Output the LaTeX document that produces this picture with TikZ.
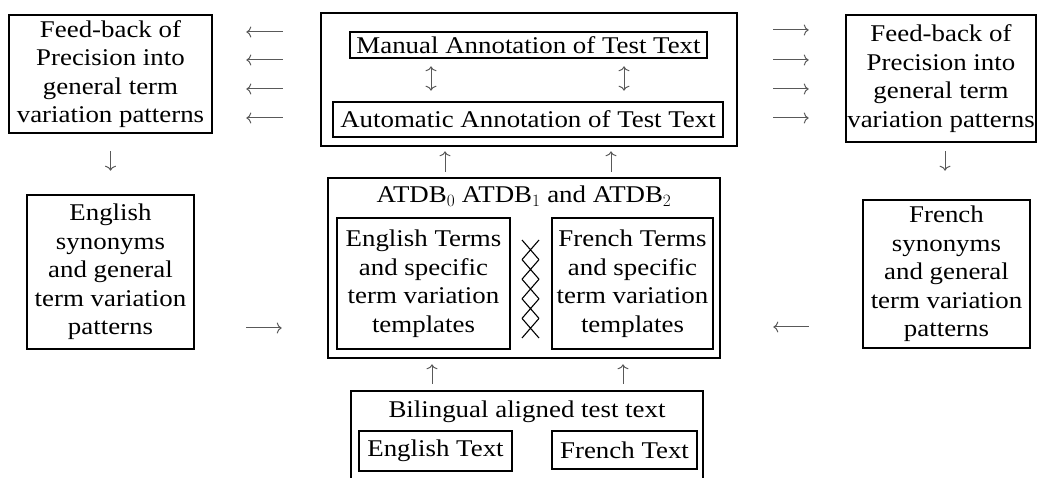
\documentclass[tikz,border=0pt]{standalone}
\usepackage{fontspec}
\setmainfont{Liberation Serif}[FakeStretch=1.12]
\usetikzlibrary{arrows.meta}

\tikzset{
  box/.style={draw, line width=2.6pt, inner sep=0pt, align=center},
  conn/.style={-{To[length=5pt,width=11pt]}, line width=1pt, black!65},
  biconn/.style={{To[length=5pt,width=11pt]}-{To[length=5pt,width=11pt]}, line width=1pt, black!65},
}

\begin{document}
\begin{tikzpicture}[x=1pt, y=1pt, font=\fontsize{24}{28.5}\selectfont]
  \useasboundingbox (0,0) rectangle (1039,477);

  % feed-back boxes
  \node[box, minimum width=203, minimum height=118] (fbL) at (110.5,403)
    {Feed-back of\\Precision into\\general term\\variation patterns};
  \node[box, minimum width=190, minimum height=127] (fbR) at (941,398.5)
    {Feed-back of\\Precision into\\general term\\variation patterns};

  % annotation
  \node[box, minimum width=416, minimum height=133] (annot) at (529,397.5) {};
  \node[box, minimum width=357, minimum height=26] (manual) at (528.5,432)
    {Manual Annotation of Test Text};
  \node[box, minimum width=390, minimum height=35] (auto) at (528,357.5)
    {Automatic Annotation of Test Text};

  % synonyms
  \node[box, minimum width=167, minimum height=154] (synL) at (110.5,205)
    {English\\synonyms\\and general\\term variation\\patterns};
  \node[box, minimum width=167, minimum height=148] (synR) at (946.5,203)
    {French\\synonyms\\and general\\term variation\\patterns};

  % term databases
  \node[box, minimum width=392, minimum height=180] (atdb) at (524,209) {};
  \node[anchor=base] (atdbTitle) at (524,274)
    {ATDB$_0$ ATDB$_1$ and ATDB$_2$};
  \node[box, minimum width=173, minimum height=131] (engT) at (423.5,193.5)
    {English Terms\\and specific\\term variation\\templates};
  \node[box, minimum width=161, minimum height=131] (frT) at (632.5,193.5)
    {French Terms\\and specific\\term variation\\templates};
  \foreach \i in {0,...,4}
    \draw[line width=1.1pt] (522,{237-19.6*\i}) -- ++(17,-19.6)
                            (539,{237-19.6*\i}) -- ++(-17,-19.6);

  % bilingual text
  \begin{scope}
    \clip (0,0) rectangle (1039,477);
    \node[box, minimum width=352, minimum height=200] (bil) at (527,-14) {};
  \end{scope}
  \node[anchor=base] (bilTitle) at (527,60) {Bilingual aligned test text};
  \node[box, minimum width=153, minimum height=40] (engX) at (435.5,26)
    {English Text};
  \node[box, minimum width=145, minimum height=38] (frX) at (624.5,27)
    {French Text};

  % arrows
  \foreach \y in {445,417,388,359}
    \draw[conn, shorten <=37pt, shorten >=33pt] (annot.west |- 0,\y) -- (fbL.east |- 0,\y);
  \foreach \y in {447,417,388,359}
    \draw[conn, shorten <=35pt, shorten >=36pt] (annot.east |- 0,\y) -- (fbR.west |- 0,\y);
  \draw[conn, shorten <=17pt, shorten >=23pt] (fbL.south) -- (fbL.south |- synL.north);
  \draw[conn, shorten <=8pt, shorten >=28pt] (fbR.south -| 945,0) -- (synR.north -| 945,0);
  \foreach \x in {431,624}
    \draw[biconn, shorten <=7pt, shorten >=10pt] (manual.south -| \x,0) -- (auto.north -| \x,0);
  \foreach \x in {445,611}
    \draw[conn, shorten <=5pt, shorten >=4pt] (atdb.north -| \x,0) -- (annot.south -| \x,0);
  \foreach \x in {432,623}
    \draw[conn, shorten <=6pt, shorten >=5pt] (bil.north -| \x,0) -- (atdb.south -| \x,0);
  \draw[conn, shorten <=51pt, shorten >=45pt] (synL.east |- 0,149) -- (atdb.west |- 0,149);
  \draw[conn, shorten <=53pt, shorten >=52pt] (synR.west |- 0,150) -- (atdb.east |- 0,150);
\end{tikzpicture}
\end{document}
